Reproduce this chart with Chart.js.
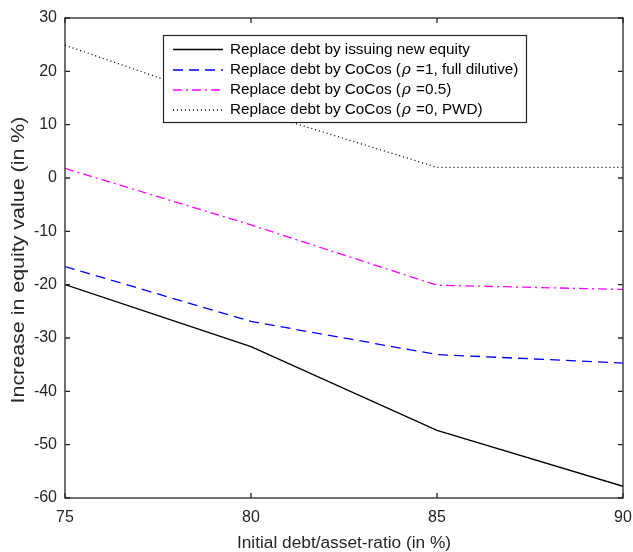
<!DOCTYPE html>
<html><head><meta charset="utf-8">
<script src="https://cdn.jsdelivr.net/npm/chart.js@4/dist/chart.umd.min.js"></script>
<style>html,body{margin:0;padding:0;background:#fff;}#wrap{width:633px;height:552px;}</style>
</head><body><div id="wrap"><canvas id="c" width="633" height="552"></canvas></div>
<script>
// ---- data ----
const xValues = [75, 80, 85, 90];
const xTicks = [75, 80, 85, 90];
const yTicks = [-60, -50, -40, -30, -20, -10, 0, 10, 20, 30];
const seriesLabels = [
  'Replace debt by issuing new equity',
  'Replace debt by CoCos (ρ =1, full dilutive)',
  'Replace debt by CoCos (ρ =0.5)',
  'Replace debt by CoCos (ρ =0, PWD)'
];
const newEquity = [-20.0, -31.6, -47.3, -57.8];
const cocosFull = [-16.6, -26.9, -33.1, -34.7];
const cocosHalf = [1.8, -8.8, -20.1, -20.9];
const cocosPWD  = [24.9, 12.8, 2.0, 2.0];
const xTitle = 'Initial debt/asset-ratio (in %)';
const yTitle = 'Increase in equity value (in %)';

// ---- styles ----
const seriesValues = [newEquity, cocosFull, cocosHalf, cocosPWD];
const colors = ['#000000', '#0000FF', '#FF00FF', '#000000'];
const dashes = [[], [10, 6], [9, 4, 2, 4], [1, 3]];
const FONT = '"Liberation Sans", Arial, sans-serif';
const AXIS = '#262626';

const datasets = seriesValues.map((vals, i) => ({
  label: seriesLabels[i],
  data: xValues.map((x, j) => ({x: x, y: vals[j]})),
  borderColor: colors[i],
  backgroundColor: colors[i],
  borderWidth: 1.3,
  borderDash: dashes[i],
  pointRadius: 0,
  tension: 0,
  fill: false
}));

const boxPlugin = {
  id: 'boxPlugin',
  afterDatasetsDraw(chart) {
    const ctx = chart.ctx;
    const a = chart.chartArea;
    const xs = chart.scales.x, ys = chart.scales.y;
    ctx.save();
    ctx.strokeStyle = AXIS;
    ctx.lineWidth = 1.3;
    ctx.setLineDash([]);
    ctx.strokeRect(a.left, a.top, a.right - a.left, a.bottom - a.top);
    ctx.beginPath();
    const tl = 5;
    xTicks.forEach(v => {
      const px = xs.getPixelForValue(v);
      ctx.moveTo(px, a.bottom); ctx.lineTo(px, a.bottom - tl);
      ctx.moveTo(px, a.top); ctx.lineTo(px, a.top + tl);
    });
    yTicks.forEach(v => {
      const py = ys.getPixelForValue(v);
      ctx.moveTo(a.left, py); ctx.lineTo(a.left + tl, py);
      ctx.moveTo(a.right, py); ctx.lineTo(a.right - tl, py);
    });
    ctx.stroke();

    // axis titles
    ctx.fillStyle = AXIS;
    ctx.textAlign = 'center';
    ctx.textBaseline = 'middle';
    ctx.font = '17.3px ' + FONT;
    ctx.fillText(xTitle, (a.left + a.right) / 2, 543);
    ctx.save();
    ctx.translate(19, (a.top + a.bottom) / 2 + 2);
    ctx.rotate(-Math.PI / 2);
    ctx.scale(1.19, 1);
    ctx.font = '18px ' + FONT;
    ctx.fillText(yTitle, 0, 0);
    ctx.restore();

    // legend
    const lx = 163, ly = 35, lw = 363, lh = 87;
    ctx.fillStyle = '#ffffff';
    ctx.fillRect(lx, ly, lw, lh);
    ctx.strokeStyle = AXIS;
    ctx.lineWidth = 1.2;
    ctx.strokeRect(lx + 0.5, ly + 0.5, lw, lh);
    const rowY = [49.5, 70, 90, 110];
    chart.data.datasets.forEach((ds, i) => {
      const y = rowY[i];
      ctx.beginPath();
      ctx.strokeStyle = ds.borderColor;
      ctx.lineWidth = ds.borderWidth;
      ctx.setLineDash(ds.borderDash);
      ctx.moveTo(173, y); ctx.lineTo(223, y);
      ctx.stroke();
      ctx.setLineDash([]);
      ctx.fillStyle = '#000';
      ctx.textBaseline = 'middle';
      ctx.textAlign = 'left';
      let x = 230;
      const parts = ds.label.split('ρ');
      parts.forEach((p, k) => {
        ctx.font = '15.3px ' + FONT;
        ctx.fillText(p, x, y);
        x += ctx.measureText(p).width;
        if (k < parts.length - 1) {
          ctx.font = 'italic 15px "DejaVu Serif", serif';
          ctx.fillText('ρ', x + 1, y);
          x += ctx.measureText('ρ').width + 2;
        }
      });
    });
    ctx.restore();
  }
};

new Chart(document.getElementById('c'), {
  type: 'line',
  data: { datasets: datasets },
  options: {
    responsive: false,
    animation: false,
    devicePixelRatio: 1,
    layout: { padding: { left: 0, right: 10, top: 18, bottom: 0 } },
    plugins: { legend: { display: false }, tooltip: { enabled: false } },
    scales: {
      x: {
        type: 'linear', min: 75, max: 90,
        afterFit(s) { s.height = 54; s.paddingLeft = 0; s.paddingRight = 0; },
        afterBuildTicks(s) { s.ticks = xTicks.map(v => ({value: v})); },
        grid: { display: false, drawTicks: false },
        border: { display: false },
        ticks: { color: AXIS, font: { family: FONT, size: 16 }, padding: 10, maxRotation: 0 }
      },
      y: {
        type: 'linear', min: -60, max: 30,
        afterFit(s) { s.width = 65; s.paddingTop = 0; s.paddingBottom = 0; },
        afterBuildTicks(s) { s.ticks = yTicks.map(v => ({value: v})); },
        grid: { display: false, drawTicks: false },
        border: { display: false },
        ticks: { color: AXIS, font: { family: FONT, size: 16 }, padding: 8 }
      }
    }
  },
  plugins: [boxPlugin]
});
</script></body></html>
